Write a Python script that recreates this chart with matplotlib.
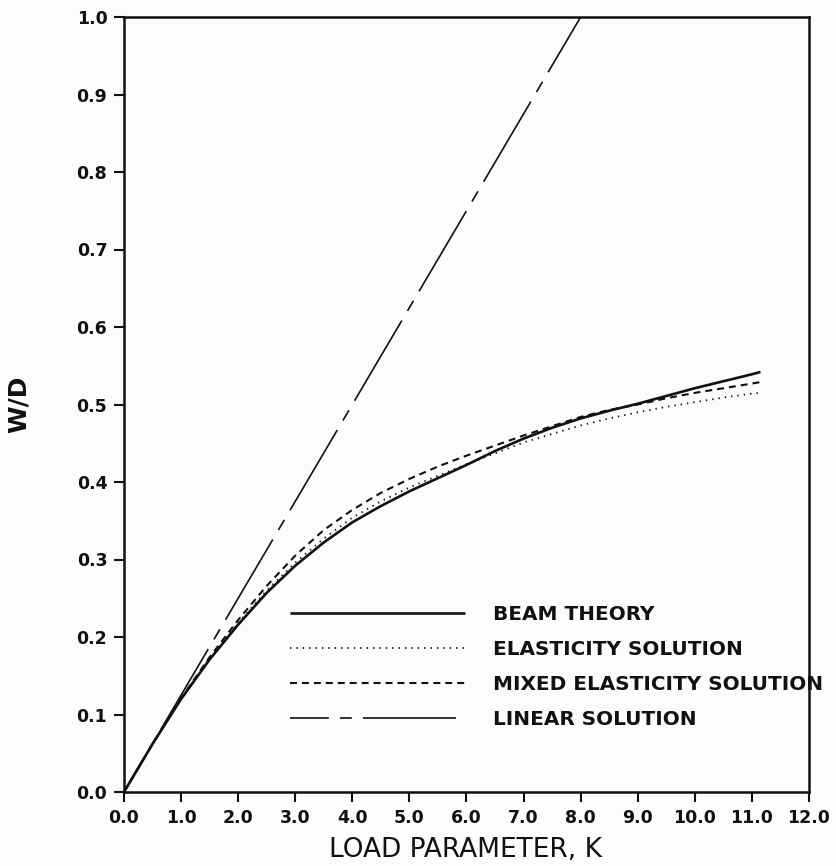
import matplotlib
matplotlib.use("Agg")
import matplotlib.pyplot as plt

plt.rcParams['font.family'] = ['DejaVu Sans']
plt.rcParams['lines.scale_dashes'] = False

# ---- data ----
K = [0, 0.5, 1.0, 1.5, 2.0, 2.5, 3.0, 3.5, 4.0, 4.5, 5.0, 5.5, 6.0, 6.5,
     7.0, 7.5, 8.0, 8.5, 9.0, 9.5, 10.0, 10.5, 11.0, 11.15]
beam = [0, 0.062, 0.120, 0.171, 0.216, 0.257, 0.292, 0.322, 0.348, 0.369,
        0.388, 0.405, 0.422, 0.440, 0.456, 0.470, 0.482, 0.492, 0.501,
        0.511, 0.521, 0.530, 0.539, 0.542]
elasticity = [0, 0.062, 0.120, 0.172, 0.218, 0.260, 0.296, 0.327, 0.354,
              0.375, 0.393, 0.408, 0.423, 0.437, 0.451, 0.462, 0.473,
              0.482, 0.490, 0.497, 0.503, 0.509, 0.514, 0.515]
mixed = [0, 0.062, 0.121, 0.174, 0.222, 0.266, 0.305, 0.338, 0.364, 0.386,
         0.404, 0.420, 0.434, 0.447, 0.460, 0.472, 0.484, 0.493, 0.500,
         0.508, 0.515, 0.521, 0.527, 0.529]
K_linear = [0, 8.0]
linear = [0, 1.0]

labels = ["BEAM THEORY", "ELASTICITY SOLUTION",
          "MIXED ELASTICITY SOLUTION", "LINEAR SOLUTION"]
xticks = [0, 1, 2, 3, 4, 5, 6, 7, 8, 9, 10, 11, 12]
xticklabels = ["0.0", "1.0", "2.0", "3.0", "4.0", "5.0", "6.0", "7.0",
               "8.0", "9.0", "10.0", "11.0", "12.0"]
yticks = [0.0, 0.1, 0.2, 0.3, 0.4, 0.5, 0.6, 0.7, 0.8, 0.9, 1.0]
yticklabels = ["0.0", "0.1", "0.2", "0.3", "0.4", "0.5", "0.6", "0.7",
               "0.8", "0.9", "1.0"]

# ---- figure ----
fig = plt.figure(figsize=(8.37, 8.66), dpi=100, facecolor='#fcfcfc')
ax = fig.add_axes([124/837, 1-792/866, 685/837, 775/866])
ax.set_facecolor('#fcfcfc')

ink = '#111111'
ax.plot(K, beam, color=ink, lw=1.9, solid_capstyle='butt',
        solid_joinstyle='round', label=labels[0])
ax.plot(K, elasticity, color=ink, lw=1.3, linestyle=(0, (1.0, 3.6)),
        label=labels[1])
ax.plot(K, mixed, color=ink, lw=1.5, linestyle=(0, (5.0, 3.6)),
        label=labels[2])
ax.plot(K_linear, linear, color=ink, lw=1.2,
        linestyle=(39, (67, 8, 8.5, 8)), label=labels[3])

ax.set_xlim(0, 12)
ax.set_ylim(0, 1.0)
ax.set_xticks(xticks)
ax.set_xticklabels(xticklabels)
ax.set_yticks(yticks)
ax.set_yticklabels(yticklabels)

for s in ax.spines.values():
    s.set_linewidth(1.8)
    s.set_color(ink)
ax.tick_params(axis='both', direction='out', length=7, width=1.5,
               color=ink, labelsize=12.5, pad=5, labelcolor=ink)
for t in ax.get_xticklabels() + ax.get_yticklabels():
    t.set_fontweight('bold')

ax.set_xlabel("LOAD PARAMETER, K", fontsize=19, color=ink)
ax.xaxis.set_label_coords(0.498, -0.058)
ax.set_ylabel("W/D", fontsize=18, fontweight='bold', color=ink)
ax.yaxis.set_label_coords(-0.136, 0.5)

leg = ax.legend(loc='upper left', bbox_to_anchor=(0.242, 0.241),
                frameon=False, handlelength=8.75, handletextpad=1.4,
                labelspacing=0.8, borderpad=0, borderaxespad=0,
                prop={'size': 14.4, 'weight': 'bold'})
for t in leg.get_texts():
    t.set_color(ink)

fig.savefig("out.png", dpi=100, facecolor=fig.get_facecolor())
